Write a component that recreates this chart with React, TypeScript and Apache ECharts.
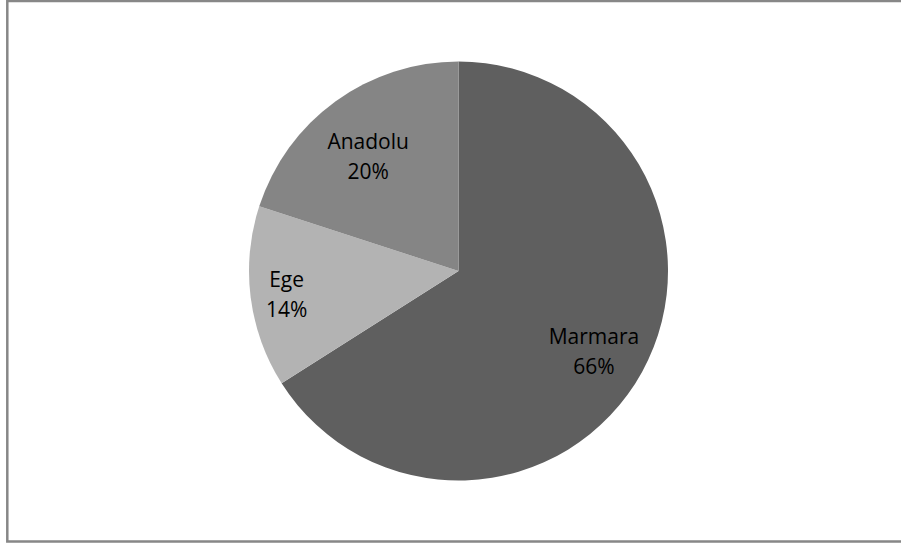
import React, { useEffect, useRef } from "react";
import * as echarts from "echarts";

const categories = ["Marmara", "Ege", "Anadolu"];
const values = [66, 14, 20];
const colors = ["#5f5f5f", "#b3b3b3", "#858585"];
// label nudges from the default inside position (styling only)
const labelShift = [
  [41, 28],
  [-65, 9],
  [-27, -28],
];

export default function App() {
  const ref = useRef<HTMLDivElement>(null);
  useEffect(() => {
    if (!ref.current) return;
    const chart = echarts.init(ref.current, undefined, { renderer: "svg" });
    chart.setOption({
      animation: false,
      backgroundColor: "#ffffff",
      graphic: [
        {
          type: "rect",
          shape: { x: 7.3, y: 1, width: 1000, height: 540.5 },
          style: { fill: "none", stroke: "#878787", lineWidth: 2.5 },
          silent: true,
          z: 10,
        },
      ],
      series: [
        {
          type: "pie",
          center: [458.5, 271],
          radius: [0, 209.5],
          startAngle: 90,
          clockwise: true,
          avoidLabelOverlap: false,
          itemStyle: { borderWidth: 0 },
          label: {
            show: true,
            position: "inside",
            formatter: "{b}\n{d}%",
            fontFamily: "Open Sans",
            fontSize: 21,
            lineHeight: 30,
            color: "#000000",
            align: "center",
          },
          labelLine: { show: false },
          emphasis: { disabled: true },
          labelLayout: (params: any) => {
            const s = labelShift[params.dataIndex] || [0, 0];
            return { dx: s[0], dy: s[1] };
          },
          data: categories.map((name, i) => ({
            name,
            value: values[i],
            itemStyle: { color: colors[i] },
          })),
        },
      ],
    });
    return () => chart.dispose();
  }, []);
  return (
    <div
      ref={ref}
      style={{ position: "absolute", left: 0, top: 0, width: 901, height: 544 }}
    />
  );
}
